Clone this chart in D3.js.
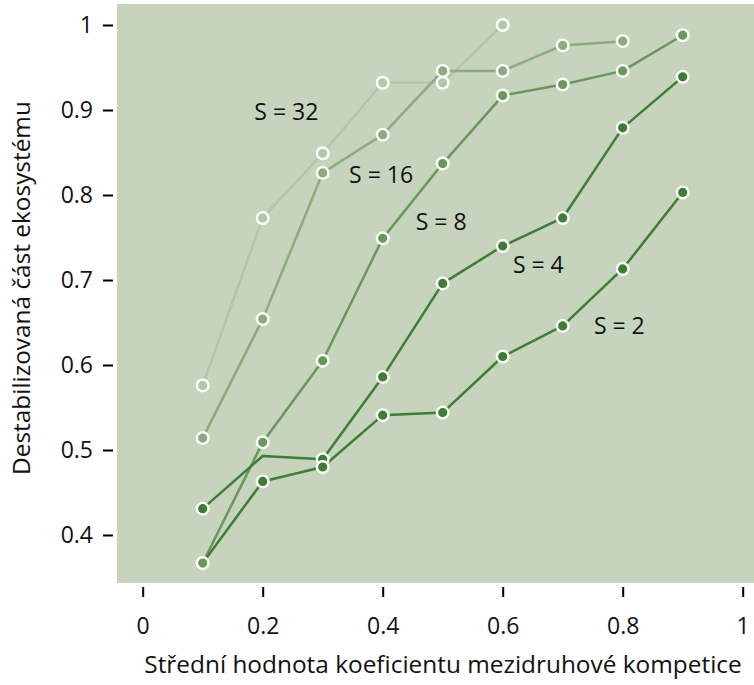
<!DOCTYPE html>
<html>
<head>
<meta charset="utf-8">
<script src="https://cdn.jsdelivr.net/npm/d3@7"></script>
<style>
  html, body { margin: 0; padding: 0; background: #ffffff; }
  svg { display: block; font-family: "Open Sans", "Noto Sans", sans-serif; }
</style>
</head>
<body>
<svg id="chart" width="754" height="685"></svg>
<script>
// ---- data ----
const xValues = [0.1, 0.2, 0.3, 0.4, 0.5, 0.6, 0.7, 0.8, 0.9];
const s32 = [0.576, 0.773, 0.849, 0.932, 0.932, 1.0];
const s16 = [0.514, 0.654, 0.826, 0.871, 0.946, 0.946, 0.976, 0.981];
const s8  = [0.367, 0.509, 0.605, 0.749, 0.837, 0.917, 0.930, 0.946, 0.988];
const s4  = [0.431, 0.493, 0.489, 0.586, 0.696, 0.740, 0.773, 0.879, 0.939];
const s2  = [0.367, 0.463, 0.480, 0.541, 0.544, 0.610, 0.646, 0.713, 0.803];
const seriesNames = ["S = 32", "S = 16", "S = 8", "S = 4", "S = 2"];
const hiddenMarkers = [[], [], [], [1], [0]];
const labelPos = [[0.186, 0.898], [0.344, 0.8235], [0.455, 0.7686], [0.617, 0.7176], [0.752, 0.6465]];
const xTicks = [0, 0.2, 0.4, 0.6, 0.8, 1];
const yTicks = [0.4, 0.5, 0.6, 0.7, 0.8, 0.9, 1];
const xTitle = "Střední hodnota koeficientu mezidruhové kompetice";
const yTitle = "Destabilizovaná část ekosystému";

const colors = ["#b3c6a5", "#8dab7d", "#69985a", "#3e7e34", "#3e7e34"];
const seriesValues = [s32, s16, s8, s4, s2];

// ---- layout ----
const FS = 23;
const TFS = 24.4;
const svg = d3.select("#chart");
const plot = { left: 117, top: 4, right: 754, bottom: 583 };
const x = d3.scaleLinear().domain([0, 1]).range([142.7, 742.7]);
const y = d3.scaleLinear().domain([0.4, 1]).range([535, 25]);

svg.append("rect")
  .attr("x", plot.left).attr("y", plot.top)
  .attr("width", plot.right - plot.left).attr("height", plot.bottom - plot.top)
  .attr("fill", "#c6d3bd");

// x axis
const xAxis = d3.axisBottom(x).tickValues(xTicks).tickSize(10).tickPadding(21)
  .tickFormat(d => d3.format("")(d));
const gx = svg.append("g").attr("transform", `translate(0,${plot.bottom + 4})`).call(xAxis);
gx.select(".domain").remove();
gx.selectAll("line").attr("stroke", "#000").attr("stroke-width", 2);
gx.selectAll("text").attr("font-size", FS).attr("fill", "#111").attr("font-family", "Open Sans");

// y axis
const yAxis = d3.axisLeft(y).tickValues(yTicks).tickSize(10).tickPadding(10)
  .tickFormat(d => d3.format("")(d));
const gy = svg.append("g").attr("transform", `translate(${plot.left - 4},0)`).call(yAxis);
gy.select(".domain").remove();
gy.selectAll("line").attr("stroke", "#000").attr("stroke-width", 2);
gy.selectAll("text").attr("font-size", FS).attr("fill", "#111").attr("font-family", "Open Sans");

// titles
svg.append("text").attr("x", 443).attr("y", 673).attr("text-anchor", "middle")
  .attr("font-size", TFS).attr("fill", "#111").text(xTitle);
svg.append("text").attr("transform", `translate(30,288) rotate(-90)`).attr("text-anchor", "middle")
  .attr("font-size", TFS).attr("fill", "#111").text(yTitle);

// lines
const line = d3.line().x(d => x(d[0])).y(d => y(d[1]));
seriesValues.forEach((vals, i) => {
  const pts = vals.map((v, j) => [xValues[j], v]);
  svg.append("path").datum(pts).attr("d", line)
    .attr("fill", "none").attr("stroke", colors[i]).attr("stroke-width", 2.5)
    .attr("stroke-linejoin", "round");
});
// markers
seriesValues.forEach((vals, i) => {
  const pts = vals.map((v, j) => [xValues[j], v, j]).filter(p => !hiddenMarkers[i].includes(p[2]));
  svg.append("g").selectAll("circle").data(pts).join("circle")
    .attr("cx", d => x(d[0])).attr("cy", d => y(d[1])).attr("r", 5.8)
    .attr("fill", colors[i]).attr("stroke", "#fff").attr("stroke-width", 2.4);
});

// labels
seriesNames.forEach((name, i) => {
  svg.append("text").attr("x", x(labelPos[i][0])).attr("y", y(labelPos[i][1]))
    .attr("dy", "0.35em").attr("font-size", FS).attr("fill", "#111").text(name);
});
</script>
</body>
</html>
